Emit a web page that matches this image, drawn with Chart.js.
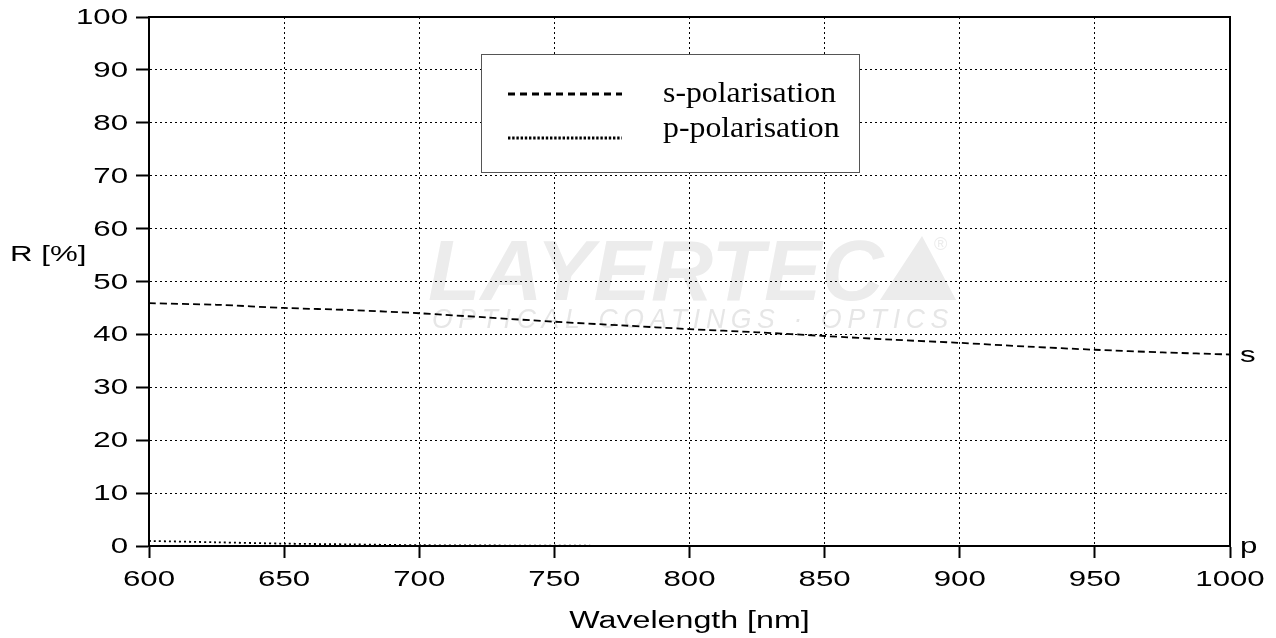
<!DOCTYPE html>
<html>
<head>
<meta charset="utf-8">
<script src="https://cdn.jsdelivr.net/npm/chart.js@4.4.1/dist/chart.umd.min.js"></script>
<style>
  html, body { margin: 0; padding: 0; background: #fff; }
  #wrap { width: 1276px; height: 638px; position: relative; }
</style>
</head>
<body>
<div id="wrap"><canvas id="reflChart"></canvas></div>
<script>
// wavelengths in nm
const wavelengths = [600, 625, 650, 675, 700, 725, 750, 775, 800, 825, 850, 875, 900, 925, 950, 975, 1000];
// reflectance in %
const sPol = [45.9, 45.6, 45.0, 44.6, 44.0, 43.2, 42.4, 41.7, 41.0, 40.4, 39.7, 39.0, 38.4, 37.7, 37.1, 36.6, 36.2];
const pPol = [0.95, 0.7, 0.45, 0.3, 0.15, 0.1, 0.05, 0.04, 0.03, 0.02, 0.02, 0.01, 0.01, 0.01, 0.01, 0.01, 0.01];
const seriesNames = ['s-polarisation', 'p-polarisation'];
const endLabels = ['s', 'p'];

const SANS = '"Liberation Sans", Arial, sans-serif';
const SERIF = '"Liberation Serif", "Times New Roman", serif';
const STRETCH = 1.42; // tick fonts in the picture are wide

// draws stretched text centred / aligned on x
function wideText(ctx, text, x, y, size, align, sx) {
    ctx.save();
    ctx.font = size + 'px ' + SANS;
    ctx.textBaseline = 'middle';
    const w = ctx.measureText(text).width * sx;
    let left = x;
    if (align === 'center') left = x - w / 2;
    if (align === 'right') left = x - w;
    ctx.translate(left, y);
    ctx.scale(sx, 1);
    ctx.textAlign = 'left';
    ctx.fillText(text, 0, 0);
    ctx.restore();
}

const decor = {
    id: 'decor',
    beforeDraw(chart) {
        // faint LAYERTEC watermark behind the grid
        const ctx = chart.ctx;
        ctx.save();
        ctx.fillStyle = '#ececec';
        ctx.font = 'bold italic 86px ' + SANS;
        ctx.textBaseline = 'alphabetic';
        ctx.fillText('LAYERTEC', 428, 300);
        ctx.beginPath();
        ctx.moveTo(880, 300);
        ctx.lineTo(922, 236);
        ctx.lineTo(956, 300);
        ctx.closePath();
        ctx.fill();
        ctx.font = '18px ' + SANS;
        ctx.fillText('\u00AE', 934, 250);
        ctx.font = 'italic 28px ' + SANS;
        ctx.letterSpacing = '6px';
        const sub = 'OPTICAL COATINGS \u00B7 OPTICS';
        const w = ctx.measureText(sub).width;
        ctx.translate(432, 328);
        ctx.scale(522 / w, 1);
        ctx.fillStyle = '#e6e6e6';
        ctx.fillText(sub, 0, 0);
        ctx.restore();
    },
    afterDraw(chart) {
        const ctx = chart.ctx;
        const area = chart.chartArea;
        const xs = chart.scales.x;
        const ys = chart.scales.y;

        // frame
        ctx.save();
        ctx.strokeStyle = '#000';
        ctx.lineWidth = 2;
        ctx.strokeRect(area.left, area.top, area.right - area.left, area.bottom - area.top);
        ctx.restore();

        // tick labels
        ctx.fillStyle = '#000';
        ys.ticks.forEach(t => {
            wideText(ctx, String(t.value), area.left - 21, ys.getPixelForValue(t.value) + 1, 22, 'right', STRETCH);
        });
        xs.ticks.forEach(t => {
            wideText(ctx, String(t.value), xs.getPixelForValue(t.value), 580, 22, 'center', STRETCH);
        });

        // axis titles
        wideText(ctx, 'Wavelength [nm]', (area.left + area.right) / 2, 622, 23, 'center', 1.4);
        wideText(ctx, 'R [%]', 10, 255, 22, 'left', STRETCH);

        // curve labels at the right edge
        chart.data.datasets.forEach((ds, i) => {
            const last = ds.data[ds.data.length - 1];
            wideText(ctx, endLabels[i], area.right + 10, ys.getPixelForValue(last.y) + 1, 22, 'left', STRETCH);
        });

        // legend box
        ctx.save();
        ctx.fillStyle = '#fff';
        ctx.fillRect(481, 54, 378, 118);
        ctx.strokeStyle = '#555';
        ctx.lineWidth = 1;
        ctx.strokeRect(481.5, 54.5, 378, 118);
        ctx.strokeStyle = '#000';
        ctx.lineWidth = 3;
        ctx.setLineDash([7, 5]);
        ctx.beginPath();
        ctx.moveTo(508, 94);
        ctx.lineTo(622, 94);
        ctx.stroke();
        ctx.lineWidth = 3;
        ctx.setLineDash([2.4, 1.8]);
        ctx.beginPath();
        ctx.moveTo(508, 138);
        ctx.lineTo(622, 138);
        ctx.stroke();
        ctx.setLineDash([]);
        ctx.fillStyle = '#000';
        ctx.font = '30px ' + SERIF;
        ctx.textBaseline = 'alphabetic';
        [102, 137].forEach((base, i) => {
            ctx.save();
            ctx.translate(663, base);
            ctx.scale(1.06, 1);
            ctx.fillText(seriesNames[i], 0, 0);
            ctx.restore();
        });
        ctx.restore();
    }
};

const ctx = document.getElementById('reflChart').getContext('2d');
new Chart(ctx, {
    type: 'line',
    data: {
        datasets: [
            {
                label: seriesNames[0],
                data: wavelengths.map((w, i) => ({ x: w, y: sPol[i] })),
                borderColor: '#000',
                borderWidth: 1.8,
                borderDash: [7, 4],
                pointRadius: 0,
                fill: false,
                tension: 0.3
            },
            {
                label: seriesNames[1],
                data: wavelengths.map((w, i) => ({ x: w, y: pPol[i] })),
                borderColor: '#000',
                borderWidth: 1.8,
                borderDash: [2, 3],
                pointRadius: 0,
                fill: false,
                tension: 0.3
            }
        ]
    },
    options: {
        responsive: true,
        maintainAspectRatio: false,
        animation: false,
        layout: { padding: { top: 17, right: 46, left: 0, bottom: 0 } },
        plugins: {
            legend: { display: false },
            tooltip: { enabled: false }
        },
        scales: {
            x: {
                type: 'linear',
                min: 600,
                max: 1000,
                ticks: { stepSize: 50, display: false },
                grid: { color: '#000', lineWidth: 1, tickLength: 12, tickWidth: 2, tickColor: '#000' },
                border: { color: '#000', width: 2, dash: [2, 3] },
                afterFit(scale) { scale.height = 92; }
            },
            y: {
                min: 0,
                max: 100,
                ticks: { stepSize: 10, display: false },
                grid: { color: '#000', lineWidth: 1, tickLength: 13, tickWidth: 2, tickColor: '#000' },
                border: { color: '#000', width: 2, dash: [2, 3] },
                afterFit(scale) { scale.width = 149; }
            }
        }
    },
    plugins: [decor]
});
</script>
</body>
</html>
